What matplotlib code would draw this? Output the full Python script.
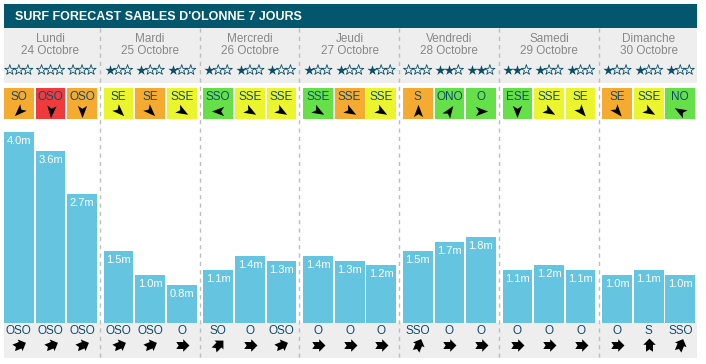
import numpy as np
import matplotlib
matplotlib.use("Agg")
import matplotlib.pyplot as plt
from matplotlib.patches import Rectangle
from matplotlib.path import Path
from matplotlib.markers import MarkerStyle
from matplotlib.transforms import Affine2D

plt.rcParams['font.family'] = ['Liberation Sans', 'DejaVu Sans']

# ---- data ----
title = "SURF FORECAST SABLES D'OLONNE 7 JOURS"
days = ["Lundi", "Mardi", "Mercredi", "Jeudi", "Vendredi", "Samedi", "Dimanche"]
dates = ["24 Octobre", "25 Octobre", "26 Octobre", "27 Octobre",
         "28 Octobre", "29 Octobre", "30 Octobre"]

heights = [4.0, 3.6, 2.7, 1.5, 1.0, 0.8, 1.1, 1.4, 1.3, 1.4, 1.3, 1.2,
           1.5, 1.7, 1.8, 1.1, 1.2, 1.1, 1.0, 1.1, 1.0]
stars = [0, 0, 0, 1, 1, 1, 1, 1, 1, 1, 1, 1, 0, 2, 2, 2, 1, 1, 1, 1, 1]
wind_dir = ["SO", "OSO", "OSO", "SE", "SE", "SSE", "SSO", "SSE", "SSE",
            "SSE", "SSE", "SSE", "S", "ONO", "O", "ESE", "SSE", "SE",
            "SE", "SSE", "NO"]
wind_level = ["o", "r", "o", "y", "o", "y", "g", "y", "y", "g", "o", "y",
              "o", "g", "g", "g", "y", "y", "o", "y", "g"]
# screen angle of the wind arrow tip (deg, clockwise from up)
wind_arrow = [225, 185, 180, 135, 135, 120, 270, 120, 120, 120, 120, 120,
              0, 35, 90, 180, 120, 140, 140, 120, 300]
swell_dir = ["OSO", "OSO", "OSO", "OSO", "OSO", "O", "SO", "O", "OSO",
             "O", "O", "O", "SSO", "O", "O", "O", "O", "O", "O", "S", "SSO"]

swell_angle = {"S": 0, "SSO": 22.5, "SO": 45, "OSO": 67.5, "O": 90}
level_color = {"o": "#F5AA30", "r": "#EF3B3C", "y": "#EAF52E", "g": "#66E049"}

# ---- layout (pixels) ----
W, H = 706, 364
x0, x1 = 4, 697
day_w = 99.7
slot_off = [0, 31.7, 63.2]
box_w = 29.7
bar_bottom = 322.7
px_per_m = 47.7

teal = "#02576C"
grey = "#EEEEEE"
blue_txt = "#0E4D6E"

slot_x = []
for k in range(7):
    for o in slot_off:
        slot_x.append(x0 + k * day_w + o)
slot_c = [x + box_w / 2 for x in slot_x]

fig = plt.figure(figsize=(W / 100, H / 100), dpi=100)
ax = fig.add_axes([0, 0, 1, 1])
ax.set_xlim(0, W)
ax.set_ylim(H, 0)
ax.axis('off')

# title bar and grey bands
ax.add_patch(Rectangle((x0, 4), x1 - x0, 24, color=teal, lw=0))
ax.text(15, 16.5, title, color='white', fontsize=9, fontweight='bold',
        ha='left', va='center')
ax.add_patch(Rectangle((x0, 28), x1 - x0, 55, color=grey, lw=0))
ax.add_patch(Rectangle((x0, bar_bottom), x1 - x0, 357.7 - bar_bottom, color=grey, lw=0))

# day separators
for k in range(1, 7):
    xs = x0 + k * day_w - 3.7
    ax.plot([xs, xs], [28, 358], color='#BDBDBD', lw=1, ls=(0, (3, 3)))

for k in range(7):
    cx = x0 + k * day_w + 46.45
    ax.text(cx, 39, days[k], color='#888888', fontsize=8.5, ha='center', va='center')
    ax.text(cx, 51.5, dates[k], color='#888888', fontsize=8.5, ha='center', va='center')

wind_path = Path([(0, 1), (0.7, -0.85), (0, -0.4), (-0.7, -0.85), (0, 1)],
                 [Path.MOVETO, Path.LINETO, Path.LINETO, Path.LINETO, Path.CLOSEPOLY])
swell_path = Path([(0, 1), (0.9, 0.1), (0.5, 0.1), (0.5, -0.9), (0, -0.55),
                   (-0.5, -0.9), (-0.5, 0.1), (-0.9, 0.1), (0, 1)],
                  [Path.MOVETO] + [Path.LINETO] * 7 + [Path.CLOSEPOLY])

for i, cx in enumerate(slot_c):
    # stars
    for j in range(3):
        sx = cx + (j - 1) * 9
        if j < stars[i]:
            ax.scatter(sx, 70, marker='*', s=60, color='#0A4F66', lw=0)
        else:
            ax.scatter(sx, 70, marker='*', s=60, facecolor='none',
                       edgecolor='#0A4F66', lw=0.6)
    # wind boxes
    ax.add_patch(Rectangle((slot_x[i], 88), box_w, 31,
                           color=level_color[wind_level[i]], lw=0))
    ax.text(cx, 96.5, wind_dir[i], color=blue_txt, fontsize=8.5,
            ha='center', va='center')
    m = MarkerStyle(wind_path, transform=Affine2D().rotate_deg(-wind_arrow[i]))
    ax.plot(cx, 110.5, marker=m, ms=9.5, color='black', mew=0)
    # swell direction
    ax.text(cx, 330.5, swell_dir[i], color=blue_txt, fontsize=8.5,
            ha='center', va='center')
    m = MarkerStyle(swell_path, transform=Affine2D().rotate_deg(-swell_angle[swell_dir[i]]))
    ax.plot(cx, 345, marker=m, ms=10, color='black', mew=0)

# bars in metres
top_m = 4.2
bax = fig.add_axes([0, 1 - bar_bottom / H, 1, top_m * px_per_m / H])
bax.set_xlim(0, W)
bax.set_ylim(0, top_m)
bax.patch.set_alpha(0)
bax.axis('off')
bax.bar(slot_c, heights, width=box_w, color='#65C4DF', lw=0)
for cx, h in zip(slot_c, heights):
    bax.annotate(f"{h:.1f}m", (cx, h), xytext=(0, -6.5), textcoords='offset points',
                 color='white', fontsize=8, ha='center', va='center')

fig.savefig("out.png", dpi=100)
